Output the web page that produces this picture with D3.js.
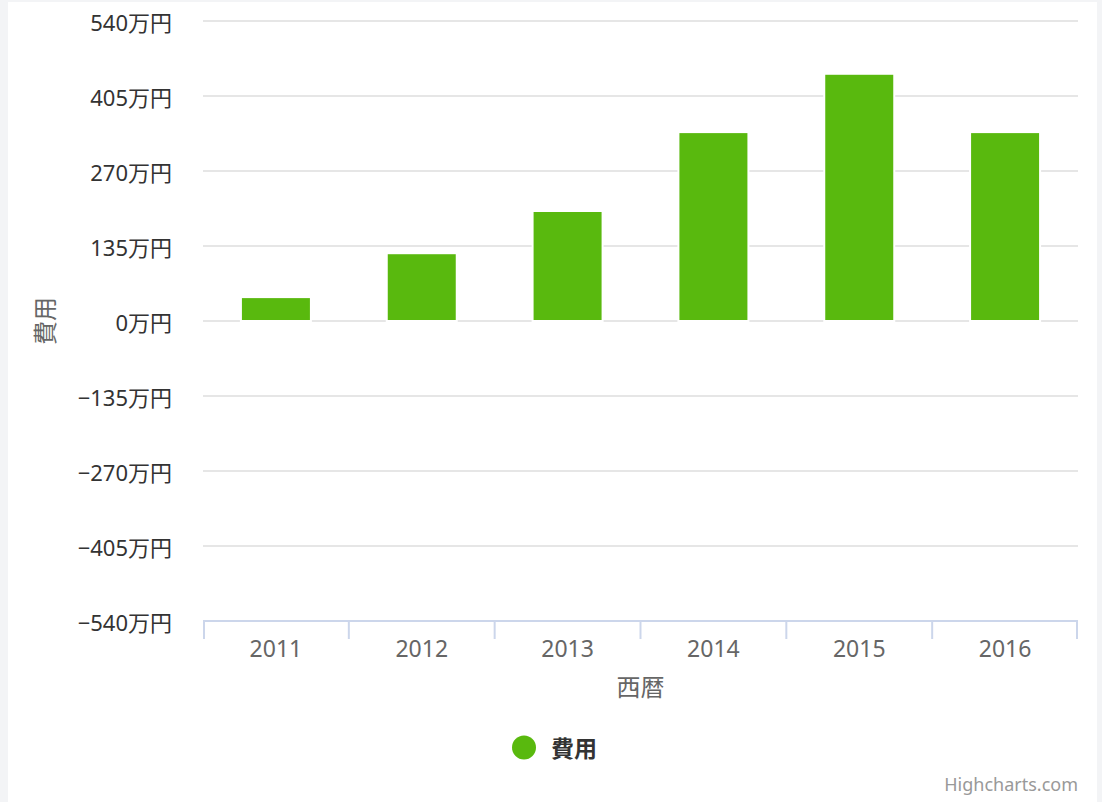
<!DOCTYPE html>
<html>
<head>
<meta charset="utf-8">
<script src="https://cdn.jsdelivr.net/npm/d3@7"></script>
<style>
  body { margin: 0; background: #f3f4f6; }
  #chart { position: absolute; left: 8px; top: 2px; }
  text { font-family: "Noto Sans", "Noto Sans CJK JP", sans-serif; }
</style>
</head>
<body>
<div id="chart"></div>
<script>
// data
const years = ['2011', '2012', '2013', '2014', '2015', '2016']
const costs = [43, 122, 198, 340, 445, 340]   // 万円
const yTicks = [-540, -405, -270, -135, 0, 135, 270, 405, 540]
const seriesName = '費用'
const xTitle = '西暦'
const yTitle = '費用'

function draw() {
    const dimensions = {
        width: 1089,
        height: 800,
        margin: { top: 19, bottom: 181, left: 195, right: 19 }
    }
    dimensions.ctrWidth = dimensions.width - dimensions.margin.left - dimensions.margin.right
    dimensions.ctrHeight = dimensions.height - dimensions.margin.top - dimensions.margin.bottom

    const svg = d3.select('#chart')
        .append('svg')
        .attr('width', dimensions.width)
        .attr('height', dimensions.height)

    svg.append('rect')
        .attr('width', dimensions.width)
        .attr('height', dimensions.height)
        .attr('fill', '#fff')

    const ctr = svg.append('g')
        .attr('transform', `translate(${dimensions.margin.left}, ${dimensions.margin.top})`)

    // scales
    const xScale = d3.scaleBand()
        .domain(years)
        .range([0, dimensions.ctrWidth])
        .paddingInner(0.52)
        .paddingOuter(0.26)

    const yScale = d3.scaleLinear()
        .domain([-540, 540])
        .range([dimensions.ctrHeight, 0])

    // grid lines
    ctr.append('g')
        .selectAll('line')
        .data(yTicks)
        .join('line')
        .attr('x1', 0)
        .attr('x2', dimensions.ctrWidth)
        .attr('y1', d => yScale(d))
        .attr('y2', d => yScale(d))
        .attr('stroke', '#e6e6e6')
        .attr('stroke-width', 2)

    // y labels
    const yAxis = d3.axisLeft(yScale)
        .tickValues(yTicks)
        .tickSize(0)
        .tickPadding(31)
        .tickFormat(d => (d < 0 ? '\u2212' + (-d) : d) + '万円')

    const yAxisGroup = ctr.append('g').call(yAxis)
    yAxisGroup.select('.domain').remove()
    yAxisGroup.selectAll('text')
        .attr('fill', '#333')
        .attr('dy', '0.45em')
        .style('font-size', '22px')

    // bars
    ctr.selectAll('rect.bar')
        .data(costs)
        .join('rect')
        .attr('class', 'bar')
        .attr('x', (d, i) => xScale(years[i]))
        .attr('y', d => yScale(d))
        .attr('width', xScale.bandwidth())
        .attr('height', d => yScale(0) - yScale(d))
        .attr('fill', '#59b90e')
        .attr('stroke', '#fff')
        .attr('stroke-width', 2)

    // x axis
    const step = xScale.step()
    const xAxisGroup = ctr.append('g')
        .attr('transform', `translate(0, ${dimensions.ctrHeight})`)

    xAxisGroup.append('line')
        .attr('x1', 0)
        .attr('x2', dimensions.ctrWidth)
        .attr('stroke', '#ccd6eb')
        .attr('stroke-width', 2)

    xAxisGroup.selectAll('line.tick')
        .data(d3.range(years.length + 1))
        .join('line')
        .attr('class', 'tick')
        .attr('x1', i => Math.min(Math.max(i * step, 1), dimensions.ctrWidth - 1))
        .attr('x2', i => Math.min(Math.max(i * step, 1), dimensions.ctrWidth - 1))
        .attr('y1', 0)
        .attr('y2', 18)
        .attr('stroke', '#ccd6eb')
        .attr('stroke-width', 2)

    xAxisGroup.selectAll('text.label')
        .data(years)
        .join('text')
        .attr('class', 'label')
        .attr('x', d => xScale(d) + xScale.bandwidth() / 2)
        .attr('y', 36)
        .attr('text-anchor', 'middle')
        .attr('fill', '#666')
        .style('font-size', '23px')
        .text(d => d)

    // axis titles
    xAxisGroup.append('text')
        .attr('x', dimensions.ctrWidth / 2)
        .attr('y', 75)
        .attr('text-anchor', 'middle')
        .attr('fill', '#666')
        .style('font-size', '24px')
        .text(xTitle)

    svg.append('text')
        .attr('transform', `translate(46, ${dimensions.margin.top + yScale(0)}) rotate(-90)`)
        .attr('text-anchor', 'middle')
        .attr('fill', '#666')
        .style('font-size', '24px')
        .text(yTitle)

    // legend
    const legend = svg.append('g')
        .attr('transform', 'translate(516, 745.5)')
    legend.append('circle')
        .attr('r', 12)
        .attr('fill', '#59b90e')
    legend.append('text')
        .attr('x', 27)
        .attr('y', 9)
        .attr('fill', '#333')
        .style('font-size', '23px')
        .style('font-weight', 'bold')
        .text(seriesName)

    // credits
    svg.append('text')
        .attr('x', dimensions.width - 19)
        .attr('y', 789)
        .attr('text-anchor', 'end')
        .attr('fill', '#999')
        .style('font-size', '18px')
        .text('Highcharts.com')
}

draw()
</script>
</body>
</html>
